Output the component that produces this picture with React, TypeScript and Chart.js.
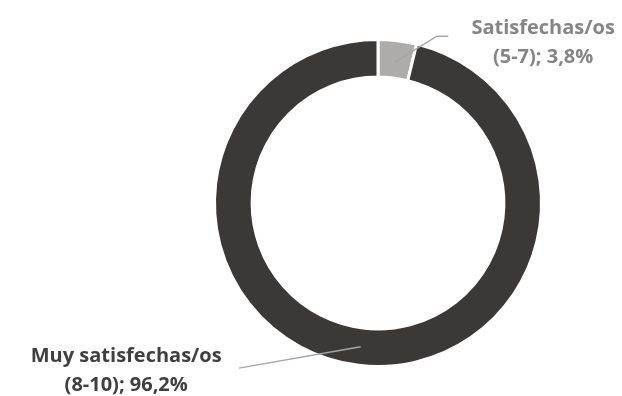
import React, { useEffect, useRef } from "react";
import { Chart, registerables } from "chart.js";

Chart.register(...registerables);

const categories = ["Satisfechas/os (5-7)", "Muy satisfechas/os (8-10)"];
const values = [3.8, 96.2];
const labelLines = [
  ["Satisfechas/os", "(5-7); 3,8%"],
  ["Muy satisfechas/os", "(8-10); 96,2%"],
];
const colors = ["#AEABAB", "#3B3838"];
const textColors = ["#858585", "#3F3F3F"];

const labelPlugin = {
  id: "outLabels",
  afterDatasetsDraw(chart: any) {
    const ctx = chart.ctx;
    const meta = chart.getDatasetMeta(0);
    ctx.save();
    ctx.font = "bold 20px 'Open Sans', sans-serif";
    ctx.textAlign = "center";
    ctx.textBaseline = "middle";
    meta.data.forEach((arc: any, i: number) => {
      const { x, y, outerRadius, innerRadius, startAngle, endAngle } = arc.getProps(
        ["x", "y", "outerRadius", "innerRadius", "startAngle", "endAngle"],
        true
      );
      const R = outerRadius;
      let mid = (startAngle + endAngle) / 2;
      let anchorR = (innerRadius + outerRadius) / 2;
      let tx: number, ty: number, lineEnd: number[], elbow: number[], pt: number[];
      if (i === 0) {
        pt = [x + Math.cos(mid) * anchorR * 0.98, y + Math.sin(mid) * anchorR * 0.98];
        elbow = [x + R * 0.36, y - R * 1.02];
        lineEnd = [x + R * 0.43, y - R * 1.02];
        tx = x + R * 1.01;
        ty = y - R * 0.98;
      } else {
        const a = Math.PI * 0.5 + 0.12;
        pt = [x + Math.cos(a) * anchorR, y + Math.sin(a) * anchorR];
        elbow = [x - R * 0.85, y + R * 1.01];
        lineEnd = elbow;
        tx = x - R * 1.54;
        ty = y + R * 1.025;
      }
      ctx.strokeStyle = "#A6A6A6";
      ctx.lineWidth = 1.5;
      ctx.beginPath();
      ctx.moveTo(pt[0], pt[1]);
      ctx.lineTo(elbow[0], elbow[1]);
      ctx.lineTo(lineEnd[0], lineEnd[1]);
      ctx.stroke();
      ctx.fillStyle = textColors[i];
      const lines = labelLines[i];
      ctx.fillText(lines[0], tx, ty - 14.5);
      ctx.fillText(lines[1], tx, ty + 14.5);
    });
    ctx.restore();
  },
};

export default function App() {
  const ref = useRef<HTMLCanvasElement>(null);
  useEffect(() => {
    if (!ref.current) return;
    const chart = new Chart(ref.current, {
      type: "doughnut",
      data: {
        labels: categories,
        datasets: [
          {
            data: values,
            backgroundColor: colors,
            borderColor: "#FFFFFF",
            borderWidth: 3,
          },
        ],
      },
      options: {
        animation: false,
        responsive: false,
        cutout: "77%",
        layout: { padding: { top: 38, bottom: 28, left: 213, right: 79 } },
        plugins: { legend: { display: false }, tooltip: { enabled: false } },
      },
      plugins: [labelPlugin],
    });
    return () => chart.destroy();
  }, []);
  return (
    <div style={{ position: "fixed", left: 0, top: 0, width: 622, height: 396, background: "#fff" }}>
      <canvas ref={ref} width={622} height={396} />
    </div>
  );
}
